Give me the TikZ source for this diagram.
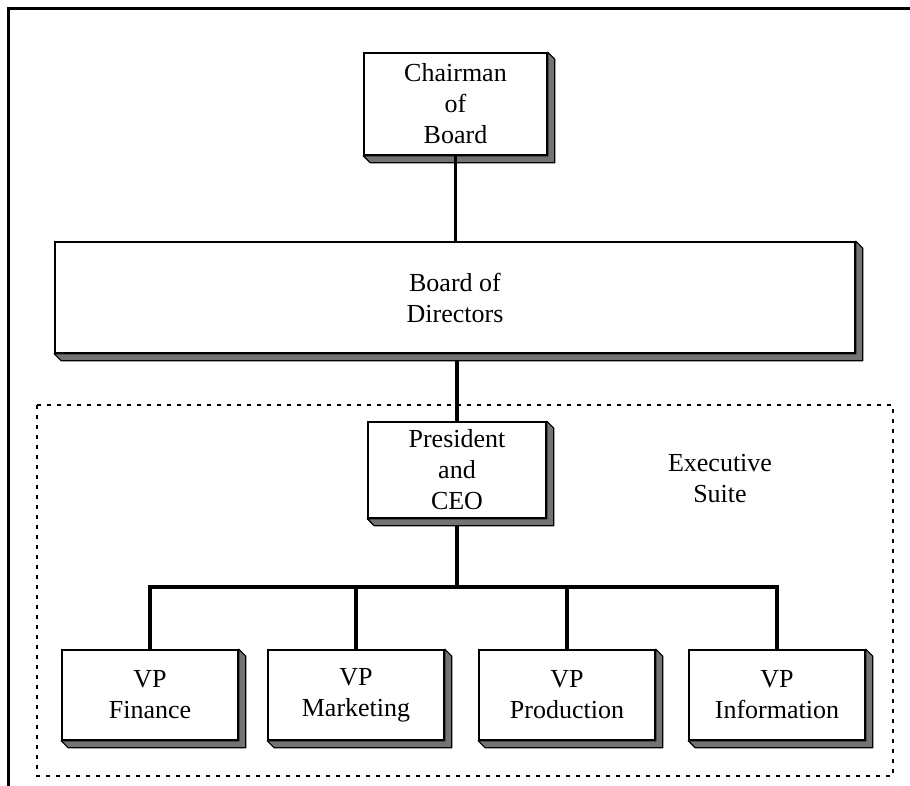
\documentclass[tikz,border=0pt]{standalone}
\usepackage{fontspec}
\setmainfont{Liberation Serif}
\usetikzlibrary{calc}
% dark slab under the right and bottom edges of a box
\newcommand\extrude[1]{%
  \filldraw[depth] (#1.north east) -- ++(7,7) -- ($(#1.south east)+(7,7)$)
    -- ($(#1.south west)+(7,7)$) -- (#1.south west) -- (#1.south east) -- cycle;}
\begin{document}
\begin{tikzpicture}[x=1pt,y=-1pt,
  unit/.style={draw=black, line width=1.6pt, fill=white, align=center,
    inner sep=0pt, font=\fontsize{26}{31}\selectfont},
  vpunit/.style={unit, minimum width=176pt, minimum height=90pt},
  depth/.style={fill=black!55, draw=black, line width=1.2pt, line join=round},
  link/.style={line width=3.2pt},
  suite/.style={dash pattern=on 4pt off 6pt, line width=2.2pt},
  outline/.style={line width=3pt},
  caption/.style={align=center, font=\fontsize{26}{31}\selectfont}]
\useasboundingbox (0,0) rectangle (910,786);

% page rule along top and left
\draw[outline] (910,9) -- (8,9) -- (8,786);

% executive suite boundary
\draw[suite] (37,405) rectangle (893,776);
\node[caption] (exec) at (720,479) {Executive\\Suite};

% boxes
\node[unit, minimum width=183pt, minimum height=102pt] (chair) at (455.5,104) {Chairman\\of\\Board};
\node[unit, minimum width=800pt, minimum height=111pt] (board) at (455,297.5) {Board of\\Directors};
\node[unit, minimum width=178pt, minimum height=96pt] (pres) at (457,470) {President\\and\\CEO};
\node[vpunit] (vpf) at (150,695) {VP\\Finance};
\node[vpunit] (vpm) at (356,695) {VP\\Marketing};
\node[vpunit] (vpp) at (567,695) {VP\\Production};
\node[vpunit] (vpi) at (777,695) {VP\\Information};
\coordinate (bus) at (457,587);

\foreach \b in {chair,board,pres,vpf,vpm,vpp,vpi} {\extrude{\b}}

% reporting lines
\draw[link] (chair.south) -- (chair.south |- board.north);
\draw[link] (pres.north |- board.south) ++(0,7) -- (pres.north);
\draw[link] (pres.south) ++(0,7) -- (pres.south |- bus);
\draw[link] (vpf.north) -- (vpf.north |- bus) -- (vpi.north |- bus) -- (vpi.north);
\draw[link] (vpm.north) -- (vpm.north |- bus);
\draw[link] (vpp.north) -- (vpp.north |- bus);
\end{tikzpicture}
\end{document}
